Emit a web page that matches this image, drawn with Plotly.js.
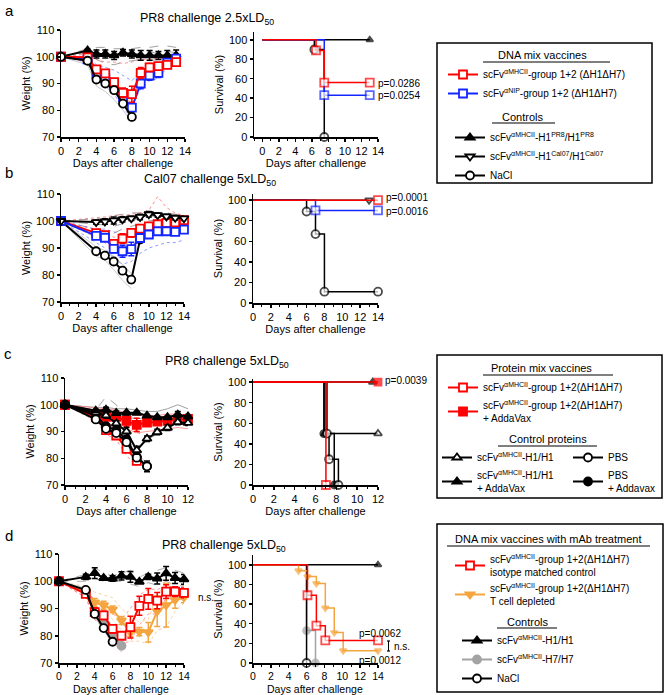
<!DOCTYPE html>
<html>
<head>
<meta charset="utf-8">
<script src="https://cdn.plot.ly/plotly-3.0.1.min.js"></script>
<style>
  body { margin: 0; background: #fff; }
  #fig { width: 667px; height: 695px; }
</style>
</head>
<body>
<div id="fig"></div>
<script>
// ---------- panel a: PR8 2.5xLD50, DNA vaccines ----------
const aDays = [0, 3, 4, 5, 6, 7, 8, 9, 10, 11, 12, 13];
const aEarly = [0, 3, 4, 5, 6, 7, 8];
const aH1Mean = [100, 102.3, 101, 101, 100.5, 101.5, 101, 100.5, 100.5, 100.5, 100.5, 100.5];
const aH1Err = [0, 0.5, 1.5, 1.5, 1.5, 1.2, 1.5, 1.8, 1.8, 1.5, 1.8, 2];
const aRedMean = [100, 99.8, 95.3, 93.8, 90.5, 86.5, 86, 94, 96, 96.5, 97, 98];
const aRedErr = [0, 0.5, 1, 1, 1.2, 1.8, 3, 2, 1.5, 1.2, 1, 1];
const aBlueMean = [100, 99, 93.5, 92, 89.6, 85, 81, 90, 93, 94, 97.8, 99.3];
const aBlueErr = [0, 0.5, 1, 1, 1.2, 1.5, 1.5, 2, 1.8, 1.8, 1, 1];
const aNaClMean = [100, 98.5, 91.5, 90, 87.5, 82.5, 77.5];
const aNaClErr = [0, 0.5, 0.7, 0.7, 0.8, 1, 1];
// single mice
const aH1Ind = [[100, 103, 103.5, 103.5, 103, 103, 103, 103.5, 103.5, 104, 104, 103.5],
                [100, 101.5, 99, 97.5, 97, 98, 98.5, 99, 98.5, 99, 99, 99.5],
                [100, 102, 101.5, 101, 100, 101, 101.5, 101, 102, 101, 102, 101.5]];
const aRedInd = [[100, 101, 99, 98, 98, 97.5, 98, 99, 99, 99.5, 99, 99],
                 [100, 99, 94, 92, 89, 85, 84, 92, 95, 95, 96, 97]];
const aRedDied = [[100, 98, 93, 90, 87, 83, 79], [100, 99, 95, 94, 90, 86, 82]];
const aBlueInd = [[100, 100, 97, 96, 95, 93, 91, 95, 97, 98, 99, 100],
                  [100, 99, 93, 91, 88, 84, 82, 88, 91, 92, 96, 98]];
const aBlueDied = [[100, 98, 92, 89, 86, 81, 77], [100, 99, 94, 93, 89, 84, 79]];
const aNaClInd = [[100, 99.5, 94, 92, 89, 85, 80], [100, 97, 89, 87, 84, 80, 75.5],
                  [100, 98.5, 92, 90, 87, 82, 77]];
// survival
const aSurvRedX = [0, 6.5, 7.5, 13], aSurvRedY = [100, 89, 56, 56];
const aSurvBlueX = [0, 7.5, 13], aSurvBlueY = [100, 43, 43];
const aSurvNaClX = [0, 6.3, 7.5], aSurvNaClY = [100, 90, 0];
const aSurvH1X = [0, 13], aSurvH1Y = [100, 100];

// ---------- panel b: Cal07 5xLD50 ----------
const bDays = [0, 4, 5, 6, 7, 8, 9, 10, 11, 12, 13, 14];
const bEarly = [0, 4, 5, 6, 7, 8];
const bCalMean = [100, 99.6, 99.8, 100.2, 100.6, 101, 101.5, 102.5, 102.2, 101.7, 101.2, 101];
const bCalErr = [0, 0.8, 1, 1.3, 1, 0.8, 1, 1, 0.8, 0.8, 0.8, 0.8];
const bRedMean = [100, 95.5, 94.8, 91.5, 93.5, 95.6, 97.2, 98, 98.8, 99.3, 99.5, 100.3];
const bRedErr = [0, 0.8, 1, 1.2, 1.8, 1.5, 1, 1, 0.8, 0.8, 0.8, 0.8];
const bBlueMean = [100, 94.5, 93.8, 89.7, 88.8, 89.6, 93.7, 95, 96.2, 96.2, 96, 96.8];
const bBlueErr = [0, 0.8, 0.8, 1.5, 2.2, 2.5, 1.5, 1.2, 1, 1, 1, 1];
const bNaClMean = [100, 88.8, 87.2, 85, 81.6, 78.3, 93.1, 95.3, 97.8, 98.3, 98, 99.5];
const bNaClErr = [0, 0.5, 0.5, 0.6, 0.8, 1.2, 0, 0, 0, 0, 0, 0];
const bCalInd = [[100, 101, 101, 102, 102.5, 103, 103, 103.5, 103, 103, 102.5, 102.5],
                 [100, 97, 96, 95.5, 97, 98, 99, 100, 100.5, 100, 100, 100],
                 [100, 99, 98.5, 98, 99, 100, 101, 102, 101.5, 101, 101, 101.5]];
const bRedInd = [[100, 101, 101.5, 102, 102, 102.5, 103, 104, 109, 105, 103, 102],
                 [100, 94, 92, 89, 88, 91, 93, 95, 96, 97, 97, 98],
                 [100, 97, 96, 94, 94, 96, 98, 99, 100, 100.5, 101, 101]];
const bBlueInd = [[100, 97, 97, 96, 95, 96, 97, 98, 99, 99, 99, 99],
                  [100, 92, 90, 86, 84, 85, 88, 90, 91, 92, 92, 93],
                  [100, 95, 94, 91, 89, 90, 94, 95, 96, 96, 96, 97]];
const bNaClInd = [[100, 90.5, 89, 87, 84, 80.5], [100, 87, 85.5, 82, 78, 75]];
const bSurvNaClX = [0, 6, 7, 8, 14], bSurvNaClY = [100, 89, 67, 11, 11];
const bSurvBlueX = [0, 7, 14], bSurvBlueY = [100, 90, 90];
const bSurvRedX = [0, 14], bSurvRedY = [100, 100];
const bSurvCalX = [0, 13], bSurvCalY = [100, 100];

// ---------- panel c: PR8 5xLD50, protein vaccines ----------
const cDays = [0, 3, 4, 5, 6, 7, 8, 9, 10, 11, 12];
const cEarly = [0, 3, 4, 5, 6, 7, 8];
const cRedOpenDays = [0, 3, 4, 5, 6, 7];
const cTriFillMean = [100, 97.8, 98.1, 96.9, 97, 97, 95.9, 95.3, 95.3, 96.3, 95.6];
const cTriFillErr = [0, 0.5, 1, 0.8, 0.5, 0.5, 0.5, 0.5, 0.5, 1.2, 0.8];
const cRedFillMean = [100, 96.5, 95.5, 95.5, 94, 92.5, 93.3, 93.7, 94, 94.3, 94.7];
const cRedFillErr = [0, 0.8, 1, 1, 2, 2.5, 1, 0.8, 0.8, 0.8, 0.8];
const cTriOpenMean = [100, 97, 96, 93, 90, 83, 87.3, 89.8, 91.4, 93.5, 93.2];
const cTriOpenErr = [0, 0.5, 1, 1, 1.5, 1.5, 1, 1, 1, 1, 1];
const cRedOpenMean = [100, 95.5, 90.5, 88.5, 83.5, 79];
const cRedOpenErr = [0, 0.5, 0.8, 0.8, 1, 1];
const cPbsMean = [100, 94.5, 91, 89.4, 86, 80.2, 77];
const cPbsErr = [0, 0.5, 0.6, 0.6, 0.8, 1, 0.5];
const cPbsAddMean = [100, 96, 92, 90.5, 87, 80.5, 77];
const cPbsAddErr = [0, 0.5, 0.6, 0.8, 0.8, 1, 2];
const cTriOpenInd = [[100, 98, 103, 100, 94, 90, 87, 89, 91, 93, 93.5]];
const cTriOpenDied = [[100, 96, 95, 92, 85, 79, 77]];
const cTriFillInd = [[100, 99, 99, 98.5, 98.5, 98, 97.5, 97.5, 98.5, 100, 98.5],
                     [100, 97, 96, 96, 95, 95, 94.5, 94.5, 95, 95, 94]];
const cRedFillInd = [[100, 99, 98.5, 98, 97, 96, 96, 96, 96.5, 96.5, 96],
                     [100, 96, 93, 92, 91, 89.5, 90, 90.5, 91, 91.5, 91],
                     [100, 98, 97, 96, 92, 93, 94, 95, 95, 95.5, 95]];
const cRedOpenInd = [[100, 97, 93, 91, 86, 81], [100, 94, 89, 87, 81, 77]];
const cPbsInd = [[100, 96, 92, 90, 86, 81, 78], [100, 94, 90, 88, 84, 79, 75.5]];
const cPbsAddInd = [[100, 96, 93, 91, 88, 82, 78], [100, 95, 91, 89, 85, 79, 76]];
const cSurvTriFillX = [0, 11.5], cSurvTriFillY = [100, 100];
const cSurvRedFillX = [0, 12], cSurvRedFillY = [100, 100];
const cSurvTriOpenX = [0, 6.9, 12], cSurvTriOpenY = [100, 50, 50];
const cSurvPbsX = [0, 7.1, 7.3, 8.2], cSurvPbsY = [100, 50, 25, 0];
const cSurvPbsAddX = [0, 6.8, 7.8], cSurvPbsAddY = [100, 50, 0];
const cSurvRedOpenX = [0, 7], cSurvRedOpenY = [100, 0];

// ---------- panel d: PR8 5xLD50, T cell depletion ----------
const dDays = [0, 3, 4, 5, 6, 7, 8, 9, 10, 11, 12, 13, 14];
const dGrayDays = [0, 3, 4, 5, 6, 7];
const dNaClDays = [0, 3, 4, 5, 6];
const dH1Mean = [100, 101.6, 103, 101.2, 101, 102, 101.6, 99.8, 101.6, 101, 102.9, 101.2, 100.7];
const dH1Err = [0, 1, 2, 0.5, 1, 1.5, 2, 0.5, 1, 2, 2.5, 2, 1.8];
const dRedMean = [100, 95.4, 88.7, 87.5, 82.5, 80, 83.2, 91, 93.5, 92.9, 96.2, 96.2, 95.7];
const dRedErr = [0, 1, 1.5, 1.5, 1.5, 1.2, 4, 3.5, 3.8, 3, 2.5, 1.8, 1.8];
const dOrMean = [100, 96.2, 92.2, 91.2, 89.7, 85.6, 81.3, 81.5, 81.3, 89, 91.2, 93.1, 94.1];
const dOrErr = [0, 1, 1.5, 1.5, 1.2, 1.5, 1.5, 1.5, 3.6, 5.6, 8, 3, 2];
const dGrayMean = [100, 96, 89, 85, 80.5, 76.3];
const dGrayErr = [0, 0.8, 1, 1, 1, 1];
const dNaClMean = [100, 96.8, 88, 82.8, 77.8];
const dNaClErr = [0, 0.8, 1, 0.8, 0.8];
const dH1Ind = [[100, 102.5, 105, 103, 102, 103, 104, 101.5, 103, 104, 105, 104, 103],
                [100, 100, 101, 100, 100, 100, 99, 98, 99.5, 98.5, 100, 98.5, 98.5]];
const dRedInd = [[100, 97, 93, 92, 88, 86, 90, 95, 97, 97, 98, 98, 98],
                 [100, 94, 86, 84, 80, 77, 78, 84, 88, 88, 94, 94, 93]];
const dRedDied = [[100, 94, 86, 83, 78, 74], [100, 96, 90, 87, 82, 77]];
const dOrInd = [[100, 98, 96, 95, 94, 90, 87, 85, 86, 95, 99, 97, 96],
                [100, 95, 90, 89, 86, 82, 78, 78, 77, 82, 83, 89, 92]];
const dOrDied = [[100, 95, 89, 87, 84, 80], [100, 97, 93, 92, 90, 85]];
const dGrayInd = [[100, 97, 91, 87, 82, 78], [100, 95, 87, 83, 79, 75]];
const dNaClInd = [[100, 97.5, 89, 84, 79], [100, 96, 87, 82, 77]];
const dSurvH1X = [0, 14], dSurvH1Y = [100, 100];
const dSurvRedX = [0, 6.1, 7.1, 8.1, 14], dSurvRedY = [100, 69, 38, 23, 23];
const dSurvOrX = [0, 5.1, 6.1, 7.1, 8.1, 9.1, 10.1, 14], dSurvOrY = [100, 94, 88, 81, 56, 31, 12.5, 12.5];
const dSurvGrayX = [0, 6, 7], dSurvGrayY = [100, 33, 0];
const dSurvNaClX = [0, 6], dSurvNaClY = [100, 0];

// ---------- styling ----------
const FONT = 'Arial, "Liberation Sans", sans-serif';
const RED = '#ff0000', BLUE = '#1426ff', ORANGE = '#f5a53f', GRAY = '#a3a3a3';
const W = 667, H = 695;
const px = v => v / W;
const py = v => 1 - v / H;
const ax = n => (n === 1 ? '' : String(n));

const traces = [];

function addInd(x, rows, n, color, dash) {
	rows.forEach(r => traces.push({
		x: x, y: r, xaxis: 'x' + ax(n), yaxis: 'y' + ax(n), mode: 'lines',
		line: { color: color, width: 0.8, dash: dash }, showlegend: false, hoverinfo: 'skip'
	}));
}

function addMean(x, y, err, n, o) {
	traces.push({
		x: x, y: y, xaxis: 'x' + ax(n), yaxis: 'y' + ax(n), mode: 'lines+markers',
		name: o.name || '', line: { color: o.color, width: 2 },
		marker: { symbol: o.symbol, size: o.size || 8, color: o.fill, line: { color: o.color, width: 1.8 } },
		error_y: { type: 'data', array: err, color: o.color, thickness: 1.5, width: 3 },
		cliponaxis: false, showlegend: !!o.legend, legend: o.legend, legendrank: o.rank
	});
}

function addSurv(x, y, n, o) {
	traces.push({
		x: x, y: y, xaxis: 'x' + ax(n), yaxis: 'y' + ax(n), mode: 'lines+markers',
		line: { color: o.color, width: 1.5, shape: 'hv' },
		marker: { symbol: o.symbol, size: x.map((v, i) => (i === 0 ? 0 : (o.size || 8))), color: o.fill,
			line: { color: o.color, width: 1.8 } },
		cliponaxis: false, showlegend: false
	});
}

// panel a
addInd(aDays, aH1Ind, 1, '#888', 'dash');
addInd(aDays, aRedInd, 1, '#ff7070', 'dot');
addInd(aEarly, aRedDied, 1, '#ff7070', 'dot');
addInd(aDays, aBlueInd, 1, '#7080ff', 'dot');
addInd(aEarly, aBlueDied, 1, '#7080ff', 'dot');
addInd(aEarly, aNaClInd, 1, '#bbb', 'solid');
addMean(aDays, aH1Mean, aH1Err, 1, { color: '#000', symbol: 'triangle-up', fill: '#000', legend: 'legend2', rank: 1,
	name: 'scFv<sup>αMHCII</sup>-H1<sup>PR8</sup>/H1<sup>PR8</sup>' });
addMean(aDays, aBlueMean, aBlueErr, 1, { color: BLUE, symbol: 'square', fill: '#fff', legend: 'legend', rank: 2,
	name: 'scFv<sup>αNIP</sup>-group 1+2 (ΔH1ΔH7)' });
addMean(aDays, aRedMean, aRedErr, 1, { color: RED, symbol: 'square', fill: '#fff', legend: 'legend', rank: 1,
	name: 'scFv<sup>αMHCII</sup>-group 1+2 (ΔH1ΔH7)' });
addMean(aEarly, aNaClMean, aNaClErr, 1, { color: '#000', symbol: 'circle', fill: '#fff', legend: 'legend2', rank: 3,
	name: 'NaCl' });
addSurv(aSurvH1X, aSurvH1Y, 2, { color: '#000', symbol: 'triangle-up', fill: '#000', size: 6 });
addSurv(aSurvNaClX, aSurvNaClY, 2, { color: '#000', symbol: 'circle', fill: '#fff' });
addSurv(aSurvBlueX, aSurvBlueY, 2, { color: BLUE, symbol: 'square', fill: '#fff' });
addSurv(aSurvRedX, aSurvRedY, 2, { color: RED, symbol: 'square', fill: '#fff' });

// panel b
addInd(bDays, bCalInd, 3, '#888', 'dash');
addInd(bDays, bRedInd, 3, '#ff7070', 'dot');
addInd(bDays, bBlueInd, 3, '#7080ff', 'dot');
addInd(bEarly, bNaClInd, 3, '#bbb', 'solid');
addMean(bDays, bNaClMean, bNaClErr, 3, { color: '#000', symbol: 'circle', fill: '#fff' });
addMean(bDays, bRedMean, bRedErr, 3, { color: RED, symbol: 'square', fill: '#fff' });
addMean(bDays, bBlueMean, bBlueErr, 3, { color: BLUE, symbol: 'square', fill: '#fff' });
addMean(bDays, bCalMean, bCalErr, 3, { color: '#000', symbol: 'triangle-down', fill: '#fff', legend: 'legend2', rank: 2,
	name: 'scFv<sup>αMHCII</sup>-H1<sup>Cal07</sup>/H1<sup>Cal07</sup>' });
addSurv(bSurvNaClX, bSurvNaClY, 4, { color: '#000', symbol: 'circle', fill: '#fff' });
addSurv(bSurvBlueX, bSurvBlueY, 4, { color: BLUE, symbol: 'square', fill: '#fff' });
addSurv(bSurvCalX, bSurvCalY, 4, { color: '#000', symbol: 'triangle-down', fill: '#fff', size: 7 });
addSurv(bSurvRedX, bSurvRedY, 4, { color: RED, symbol: 'square', fill: '#fff' });

// panel c
addInd(cDays, cTriOpenInd, 5, '#888', 'dash');
addInd(cEarly, cTriOpenDied, 5, '#888', 'dash');
addInd(cDays, cTriFillInd, 5, '#888', 'solid');
addInd(cDays, cRedFillInd, 5, '#ff8080', 'solid');
addInd(cRedOpenDays, cRedOpenInd, 5, '#ff7070', 'dot');
addInd(cEarly, cPbsInd, 5, '#bbb', 'dot');
addInd(cEarly, cPbsAddInd, 5, '#ccc', 'solid');
addMean(cRedOpenDays, cRedOpenMean, cRedOpenErr, 5, { color: RED, symbol: 'square', fill: '#fff', legend: 'legend3', rank: 1,
	name: 'scFv<sup>αMHCII</sup>-group 1+2(ΔH1ΔH7)' });
addMean(cDays, cRedFillMean, cRedFillErr, 5, { color: RED, symbol: 'square', fill: RED, legend: 'legend3', rank: 2,
	name: 'scFv<sup>αMHCII</sup>-group 1+2(ΔH1ΔH7)<br>+ AddaVax' });
addMean(cEarly, cPbsAddMean, cPbsAddErr, 5, { color: '#000', symbol: 'circle', fill: '#000', legend: 'legend5', rank: 2,
	name: 'PBS<br>+ Addavax' });
addMean(cEarly, cPbsMean, cPbsErr, 5, { color: '#000', symbol: 'circle', fill: '#fff', legend: 'legend5', rank: 1,
	name: 'PBS' });
addMean(cDays, cTriOpenMean, cTriOpenErr, 5, { color: '#000', symbol: 'triangle-up', fill: '#fff', legend: 'legend4', rank: 1,
	name: 'scFv<sup>αMHCII</sup>-H1/H1' });
addMean(cDays, cTriFillMean, cTriFillErr, 5, { color: '#000', symbol: 'triangle-up', fill: '#000', legend: 'legend4', rank: 2,
	name: 'scFv<sup>αMHCII</sup>-H1/H1<br>+ AddaVax' });
addSurv(cSurvTriOpenX, cSurvTriOpenY, 6, { color: '#000', symbol: 'triangle-up', fill: '#fff', size: 7 });
addSurv(cSurvPbsAddX, cSurvPbsAddY, 6, { color: '#000', symbol: 'circle', fill: '#000', size: 7 });
addSurv(cSurvPbsX, cSurvPbsY, 6, { color: '#000', symbol: 'circle', fill: '#fff' });
addSurv(cSurvTriFillX, cSurvTriFillY, 6, { color: '#000', symbol: 'triangle-up', fill: '#000', size: 7 });
addSurv(cSurvRedOpenX, cSurvRedOpenY, 6, { color: RED, symbol: 'square', fill: '#fff' });
addSurv(cSurvRedFillX, cSurvRedFillY, 6, { color: RED, symbol: 'square', fill: RED, size: 7 });

// panel d
addInd(dDays, dH1Ind, 7, '#999', 'dash');
addInd(dDays, dOrInd, 7, '#f8c888', 'dot');
addInd(dGrayDays, dOrDied, 7, '#f8c888', 'dot');
addInd(dDays, dRedInd, 7, '#ff8080', 'dot');
addInd(dGrayDays, dRedDied, 7, '#ff8080', 'dot');
addInd(dGrayDays, dGrayInd, 7, '#ccc', 'dot');
addInd(dNaClDays, dNaClInd, 7, '#bbb', 'solid');
addMean(dGrayDays, dGrayMean, dGrayErr, 7, { color: GRAY, symbol: 'circle', fill: GRAY, legend: 'legend7', rank: 2,
	name: 'scFv<sup>αMHCII</sup>-H7/H7' });
addMean(dDays, dOrMean, dOrErr, 7, { color: ORANGE, symbol: 'triangle-down', fill: ORANGE, legend: 'legend6', rank: 2,
	name: 'scFv<sup>αMHCII</sup>-group 1+2(ΔH1ΔH7)<br>T cell depleted' });
addMean(dDays, dRedMean, dRedErr, 7, { color: RED, symbol: 'square', fill: '#fff', legend: 'legend6', rank: 1,
	name: 'scFv<sup>αMHCII</sup>-group 1+2(ΔH1ΔH7)<br>isotype matched control' });
addMean(dNaClDays, dNaClMean, dNaClErr, 7, { color: '#000', symbol: 'circle', fill: '#fff', legend: 'legend7', rank: 3,
	name: 'NaCl' });
addMean(dDays, dH1Mean, dH1Err, 7, { color: '#000', symbol: 'triangle-up', fill: '#000', legend: 'legend7', rank: 1,
	name: 'scFv<sup>αMHCII</sup>-H1/H1' });
addSurv(dSurvH1X, dSurvH1Y, 8, { color: '#000', symbol: 'triangle-up', fill: '#000', size: 6 });
addSurv(dSurvGrayX, dSurvGrayY, 8, { color: GRAY, symbol: 'circle', fill: GRAY, size: 7 });
addSurv(dSurvNaClX, dSurvNaClY, 8, { color: '#000', symbol: 'circle', fill: '#fff' });
addSurv(dSurvOrX, dSurvOrY, 8, { color: ORANGE, symbol: 'triangle-down', fill: ORANGE, size: 6 });
addSurv(dSurvRedX, dSurvRedY, 8, { color: RED, symbol: 'square', fill: '#fff' });

// ---------- axes ----------
const tf = { family: FONT, size: 11, color: '#000' };
function xAx(x0, x1, range, anchor, title, fs) {
	const f = Object.assign({}, tf, { size: fs || 11 });
	return {
		domain: [px(x0), px(x1)], range: range, anchor: anchor, tick0: 0, dtick: 2,
		showline: true, linecolor: '#000', linewidth: 1.5, ticks: 'outside', ticklen: 3, tickwidth: 1.5,
		tickcolor: '#000', showgrid: false, zeroline: false, tickfont: f,
		minor: { dtick: 1, ticks: 'outside', ticklen: 2, tickwidth: 1, tickcolor: '#000', showgrid: false },
		title: { text: title === undefined ? 'Days after challenge' : title, font: tf, standoff: 3 }
	};
}
function yAx(y0, y1, range, dtick, anchor, title) {
	return {
		domain: [py(y1), py(y0)], range: range, anchor: anchor, tick0: 0, dtick: dtick,
		showline: true, linecolor: '#000', linewidth: 1.5, ticks: 'outside', ticklen: 3, tickwidth: 1.5,
		tickcolor: '#000', showgrid: false, zeroline: false, tickfont: tf,
		title: { text: title, font: tf, standoff: 3 }
	};
}

// ---------- legends ----------
function leg(x, y) {
	return {
		x: px(x), y: py(y), xanchor: 'left', yanchor: 'top', bgcolor: 'rgba(0,0,0,0)', borderwidth: 0,
		font: { family: FONT, size: 10, color: '#000' }, itemwidth: 30, tracegroupgap: 0,
		traceorder: 'normal', itemclick: false, itemdoubleclick: false
	};
}

// ---------- annotations ----------
const ann = [];
function txt(x, y, text, o) {
	ann.push(Object.assign({ x: px(x), y: py(y), xref: 'paper', yref: 'paper', text: text, showarrow: false,
		font: { family: FONT, size: 11, color: '#000' }, xanchor: 'center', yanchor: 'middle' }, o || {}));
}
const big = { font: { family: FONT, size: 15, color: '#000' } };
const ttl = { font: { family: FONT, size: 12.5, color: '#000' } };
const pv = { font: { family: FONT, size: 10, color: '#000' }, xanchor: 'left' };
txt(9, 10, 'a', big);
txt(9, 173, 'b', big);
txt(8, 353, 'c', big);
txt(9, 535, 'd', big);
txt(207, 19, 'PR8 challenge 2.5xLD<sub>50</sub>', ttl);
txt(210, 180, 'Cal07 challenge 5xLD<sub>50</sub>', ttl);
txt(227, 362, 'PR8 challenge 5xLD<sub>50</sub>', ttl);
txt(224, 546, 'PR8 challenge 5xLD<sub>50</sub>', ttl);
// bottom row x titles sit close to the page edge
txt(121, 689, 'Days after challenge', { font: { family: FONT, size: 10.5, color: '#000' } });
txt(315, 689, 'Days after challenge', { font: { family: FONT, size: 10.5, color: '#000' } });
// p values
txt(376, 83, 'p=0.0286', pv);
txt(376, 96, 'p=0.0254', pv);
txt(384, 197, 'p=0.0001', pv);
txt(384, 211, 'p=0.0016', pv);
txt(383, 381, 'p=0.0039', pv);
txt(380, 633, 'p=0.0062', { font: pv.font });
txt(380, 660, 'p=0.0012', { font: pv.font });
txt(392, 646, 'n.s.', pv);
txt(196, 597, 'n.s.', pv);
// legend headings
txt(542, 55, 'DNA mix vaccines');
txt(522, 117, 'Controls');
txt(541, 368, 'Protein mix vaccines');
txt(548, 439, 'Control proteins');
txt(548, 539, 'DNA mix vaccines with mAb treatment');
txt(527, 622, 'Controls');

// ---------- shapes ----------
const shapes = [];
function box(x0, y0, x1, y1) {
	shapes.push({ type: 'rect', xref: 'paper', yref: 'paper', x0: px(x0), x1: px(x1), y0: py(y1), y1: py(y0),
		line: { color: '#000', width: 1.5 } });
}
function rule(x0, x1, y) {
	shapes.push({ type: 'line', xref: 'paper', yref: 'paper', x0: px(x0), x1: px(x1), y0: py(y), y1: py(y),
		line: { color: '#000', width: 1.2 } });
}
box(437, 43, 652, 183);
box(437, 355, 662, 498);
box(437, 524, 663, 692);
rule(483, 610, 62);
rule(492, 555, 123);
rule(483, 613, 375);
rule(498, 597, 446);
rule(447, 650, 546);
rule(497, 557, 628);
// n.s. bracket next to the d survival curves
rule(387, 390, 641); rule(387, 390, 651);
shapes.push({ type: 'line', xref: 'paper', yref: 'paper', x0: px(388.5), x1: px(388.5), y0: py(651), y1: py(641),
	line: { color: '#000', width: 1 } });

const layout = {
	width: W, height: H, margin: { l: 0, r: 0, t: 0, b: 0 },
	paper_bgcolor: '#fff', plot_bgcolor: 'rgba(0,0,0,0)',
	font: { family: FONT, size: 11, color: '#000' },
	xaxis: xAx(61, 185, [0, 14], 'y'), yaxis: yAx(30, 137, [70, 110], 10, 'x', 'Weight (%)'),
	xaxis2: xAx(254, 378, [-1, 14], 'y2'), yaxis2: yAx(32, 137, [0, 108], 20, 'x2', 'Survival (%)'),
	xaxis3: xAx(61, 184, [0, 14], 'y3'), yaxis3: yAx(194, 302, [70, 110], 10, 'x3', 'Weight (%)'),
	xaxis4: xAx(253, 378, [0, 14], 'y4'), yaxis4: yAx(194, 303, [0, 106], 20, 'x4', 'Survival (%)'),
	xaxis5: xAx(65, 188, [0, 12], 'y5'), yaxis5: yAx(378, 485, [70, 110], 10, 'x5', 'Weight (%)'),
	xaxis6: xAx(253, 378, [0, 12], 'y6'), yaxis6: yAx(379, 485, [0, 103], 20, 'x6', 'Survival (%)'),
	xaxis7: xAx(59, 184, [0, 14], 'y7', '', 10.5), yaxis7: yAx(554, 663, [70, 110], 10, 'x7', 'Weight (%)'),
	xaxis8: xAx(253, 378, [0, 14], 'y8', '', 10.5), yaxis8: yAx(555, 663, [0, 110], 20, 'x8', 'Survival (%)'),
	legend: leg(443, 60), legend2: leg(450, 123),
	legend3: leg(443, 373), legend4: leg(437, 443), legend5: leg(568, 443),
	legend6: leg(450, 546), legend7: leg(457, 626),
	annotations: ann, shapes: shapes
};

Plotly.newPlot('fig', traces, layout, { staticPlot: true });
</script>
</body>
</html>
